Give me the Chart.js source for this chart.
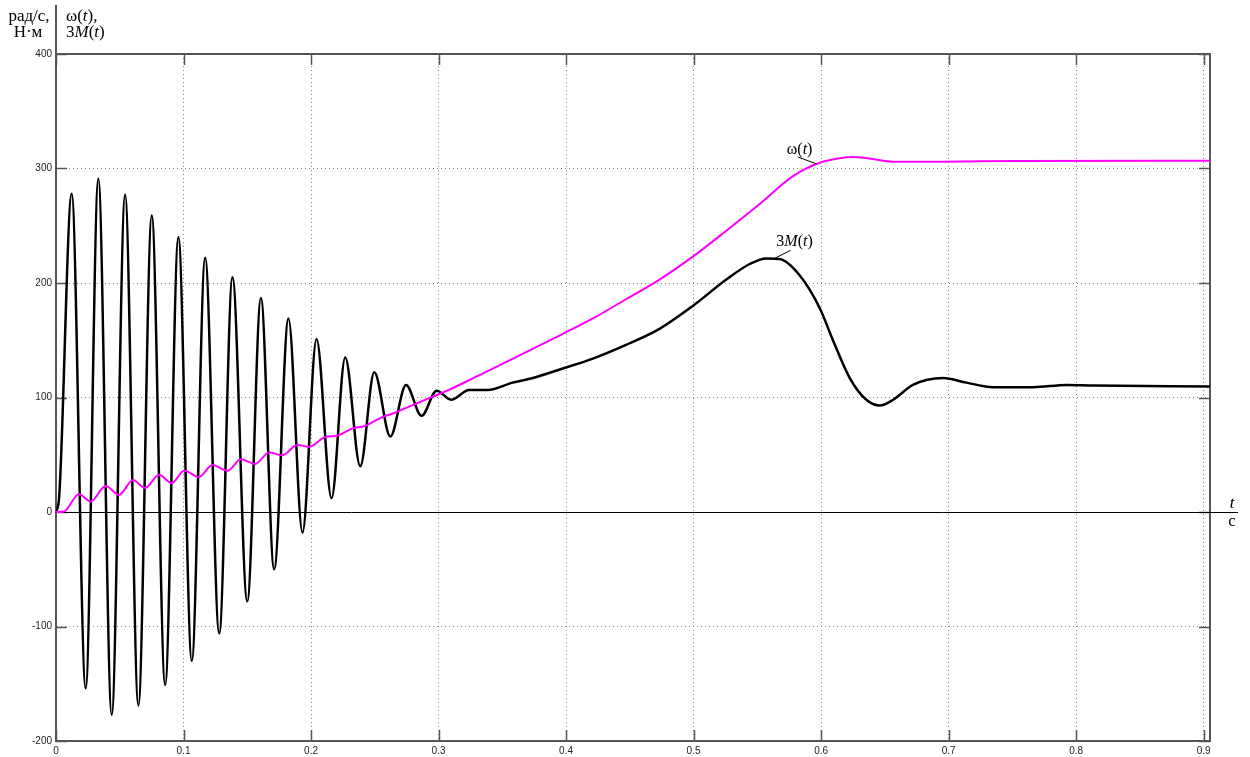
<!DOCTYPE html>
<html>
<head>
<meta charset="utf-8">
<script src="https://cdn.jsdelivr.net/npm/chart.js@4.4.1/dist/chart.umd.min.js"></script>
<style>
  html, body { margin: 0; padding: 0; background: #fff; }
  #wrap { width: 1250px; height: 757px; position: relative; }
</style>
</head>
<body>
<div id="wrap"><canvas id="myChart"></canvas></div>
<script>
// ticks
const xTickValues = [0, 0.1, 0.2, 0.3, 0.4, 0.5, 0.6, 0.7, 0.8, 0.9];
const yTickValues = [-200, -100, 0, 100, 200, 300, 400];

// 3M(t)
const timeM = [0, 0.0024, 0.0123, 0.0233, 0.0332, 0.0437, 0.0542, 0.0646, 0.0751, 0.0856,
  0.096, 0.1065, 0.117, 0.128, 0.1384, 0.150, 0.1607, 0.1711, 0.1823, 0.1933,
  0.2043, 0.2161, 0.2268, 0.2386, 0.2496, 0.2622, 0.2745, 0.2867, 0.2985, 0.3098,
  0.324, 0.3386, 0.358, 0.374, 0.3993, 0.421, 0.447, 0.4733, 0.4994, 0.5257,
  0.544, 0.557, 0.5675, 0.583, 0.599, 0.6093, 0.6225, 0.6355, 0.646, 0.6565,
  0.672, 0.6957, 0.714, 0.735, 0.7663, 0.7925, 0.8134, 0.905];
const torque3M = [0, 12, 278, -154, 291, -177, 277, -169, 259, -151,
  240, -130, 222, -106, 205, -78, 187, -50, 169, -18,
  151, 12, 135, 40, 122, 66, 111, 84, 106, 98,
  106.5, 106.5, 113, 117, 126, 134, 146, 160, 180, 203,
  216.6, 221.5, 221, 207, 178, 150, 117, 98, 93, 98,
  111, 117, 113, 109, 109, 111, 110.4, 109.6];

// omega(t)
const timeW = [0, 0.0063, 0.018, 0.0272, 0.039, 0.0495, 0.0604, 0.07, 0.0808, 0.0908,
  0.1005, 0.1122, 0.1227, 0.1345, 0.145, 0.1562, 0.1672, 0.1772, 0.1894, 0.1986,
  0.2117, 0.2195, 0.2326, 0.2418, 0.2562, 0.264, 0.2797, 0.2954, 0.3059, 0.332,
  0.3477, 0.3948, 0.421, 0.447, 0.4733, 0.4994, 0.5257, 0.5518, 0.578, 0.599,
  0.6146, 0.625, 0.6407, 0.6565, 0.6957, 0.75, 0.905];
const omega = [0, 0.5, 15.6, 9.2, 22.7, 15, 28, 21, 32.5, 25.3,
  36, 30.7, 41, 36, 46, 42, 52, 49.5, 58.5, 57,
  65.8, 66.4, 73, 75, 83, 86, 93.4, 100.7, 105.5, 119.5,
  128, 154, 169, 185.8, 203, 223, 245.7, 269, 293.4, 305,
  309, 310, 308.3, 306, 306, 306.5, 306.8];

const toPoints = (xs, ys) => xs.map((x, i) => ({ x: x, y: ys[i] }));

const serif = '"Liberation Serif", "DejaVu Serif", serif';

// text made of plain and italic pieces
function richText(ctx, parts, x, y, align, size) {
  const px = (size || 16) + 'px ';
  let w = 0;
  parts.forEach(p => {
    ctx.font = (p[1] ? 'italic ' : '') + px + serif;
    w += ctx.measureText(p[0]).width;
  });
  let cx = align === 'center' ? x - w / 2 : x;
  parts.forEach(p => {
    ctx.font = (p[1] ? 'italic ' : '') + px + serif;
    ctx.fillText(p[0], cx, y);
    cx += ctx.measureText(p[0]).width;
  });
}

const decor = {
  id: 'decor',
  beforeDatasetsDraw(chart) {
    const { ctx, chartArea: a, scales: { x, y } } = chart;
    ctx.save();
    ctx.strokeStyle = '#555';
    ctx.lineWidth = 2;
    ctx.beginPath();
    ctx.moveTo(a.left, a.top);
    ctx.lineTo(a.right, a.top);
    ctx.lineTo(a.right, a.bottom);
    ctx.moveTo(a.left, a.top);
    ctx.lineTo(a.left, 5);
    ctx.stroke();

    // small ticks on the inside of the frame
    ctx.lineWidth = 1.5;
    ctx.beginPath();
    xTickValues.forEach(v => {
      const px = Math.round(x.getPixelForValue(v)) + 0.5;
      ctx.moveTo(px, a.bottom); ctx.lineTo(px, a.bottom - 11);
      ctx.moveTo(px, a.top); ctx.lineTo(px, a.top + 11);
    });
    yTickValues.forEach(v => {
      const py = Math.round(y.getPixelForValue(v)) + 0.5;
      ctx.moveTo(a.left, py); ctx.lineTo(a.left + 11, py);
      ctx.moveTo(a.right, py); ctx.lineTo(a.right - 11, py);
    });
    ctx.stroke();

    // zero line runs out past the frame
    const y0 = Math.round(y.getPixelForValue(0)) + 0.5;
    ctx.strokeStyle = '#000';
    ctx.lineWidth = 1;
    ctx.beginPath();
    ctx.moveTo(a.left, y0);
    ctx.lineTo(a.right + 28, y0);
    ctx.stroke();
    ctx.restore();
  },
  afterDraw(chart) {
    const { ctx, chartArea: a, scales: { x, y } } = chart;
    ctx.save();
    ctx.fillStyle = '#000';
    ctx.textBaseline = 'alphabetic';

    // corner units and names
    richText(ctx, [['рад/с,', false]], a.left - 27, 21, 'center', 17);
    richText(ctx, [['Н·м', false]], a.left - 28, 37, 'center', 17);
    richText(ctx, [['ω(', false], ['t', true], ['),', false]], a.left + 10, 21, 'left', 17);
    richText(ctx, [['3', false], ['M', true], ['(', false], ['t', true], [')', false]], a.left + 10, 37, 'left', 17);

    // time axis name
    const y0 = y.getPixelForValue(0);
    richText(ctx, [['t', true]], a.right + 22, y0 - 4, 'center', 17);
    richText(ctx, [['с', false]], a.right + 22, y0 + 14, 'center', 17);

    // curve labels with leader lines
    ctx.strokeStyle = '#000';
    ctx.lineWidth = 1;
    const wx = x.getPixelForValue(0.5965), wy = y.getPixelForValue(304);
    ctx.beginPath();
    ctx.moveTo(wx - 19, wy - 7);
    ctx.lineTo(wx, wy);
    ctx.stroke();
    richText(ctx, [['ω(', false], ['t', true], [')', false]], wx - 17, wy - 10, 'center');

    const mx = x.getPixelForValue(0.5635), my = y.getPixelForValue(221.5);
    ctx.beginPath();
    ctx.moveTo(mx, my);
    ctx.lineTo(mx + 16, my - 8);
    ctx.stroke();
    richText(ctx, [['3', false], ['M', true], ['(', false], ['t', true], [')', false]], mx + 20, my - 12, 'center');
    ctx.restore();
  }
};

const data = {
  datasets: [{
    label: 'omega',
    data: toPoints(timeW, omega),
    borderColor: '#ff00ff',
    borderWidth: 2,
    pointRadius: 0,
    cubicInterpolationMode: 'monotone',
    fill: false
  },
  {
    label: '3M',
    data: toPoints(timeM, torque3M),
    borderColor: '#000000',
    borderWidth: 2.5,
    pointRadius: 0,
    cubicInterpolationMode: 'monotone',
    fill: false
  }]
};

const tickFont = { family: '"Liberation Sans", Arial, sans-serif', size: 10 };

const config = {
  type: 'line',
  data,
  options: {
    responsive: true,
    maintainAspectRatio: false,
    animation: false,
    events: [],
    layout: { padding: { top: 54, right: 40, left: 0, bottom: 0 } },
    plugins: { legend: { display: false }, tooltip: { enabled: false } },
    scales: {
      x: {
        type: 'linear',
        min: 0,
        max: 0.905,
        afterBuildTicks: s => { s.ticks = xTickValues.map(v => ({ value: v })); },
        afterFit: s => { s.height = 16; },
        ticks: { font: tickFont, color: '#222', padding: 4, maxRotation: 0, callback: v => String(v) },
        grid: { color: '#888', lineWidth: 1, drawTicks: false },
        border: { display: true, color: '#555', width: 2, dash: [1, 3] }
      },
      y: {
        type: 'linear',
        min: -200,
        max: 400,
        afterBuildTicks: s => { s.ticks = yTickValues.map(v => ({ value: v })); },
        afterFit: s => { s.width = 56; },
        ticks: { font: tickFont, color: '#222', padding: 4, callback: v => String(v) },
        grid: { color: '#888', lineWidth: 1, drawTicks: false },
        border: { display: true, color: '#555', width: 2, dash: [1, 3] }
      }
    }
  },
  plugins: [decor]
};

const myChart = new Chart(document.getElementById('myChart'), config);
</script>
</body>
</html>
